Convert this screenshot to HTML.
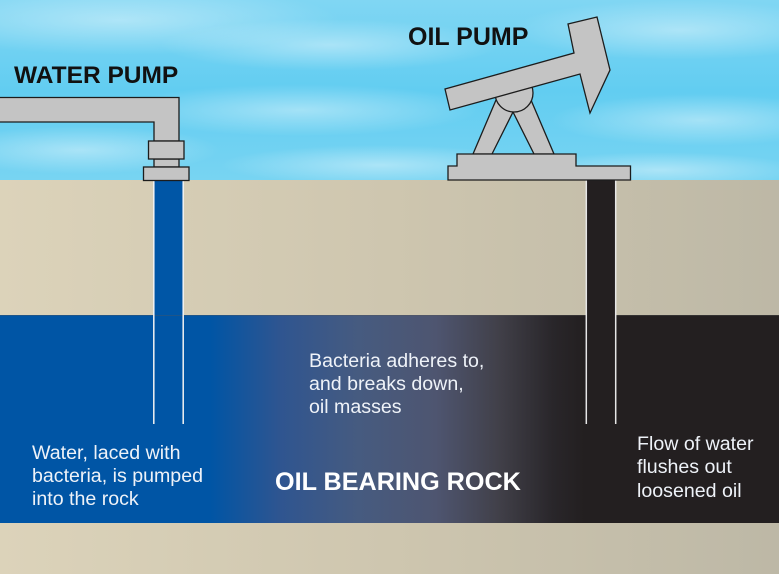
<!DOCTYPE html>
<html>
<head>
<meta charset="utf-8">
<style>
html,body{margin:0;padding:0;background:#fff;}
svg{display:block;}
</style>
</head>
<body>
<svg width="779" height="574" viewBox="0 0 779 574" xmlns="http://www.w3.org/2000/svg">
<defs>
<linearGradient id="sky" x1="0" y1="0" x2="0" y2="1">
<stop offset="0" stop-color="#80d6f3"/>
<stop offset="0.5" stop-color="#62cdf1"/>
<stop offset="1" stop-color="#78d4f2"/>
</linearGradient>
<radialGradient id="cloud">
<stop offset="0" stop-color="#ffffff" stop-opacity="0.4"/>
<stop offset="1" stop-color="#ffffff" stop-opacity="0"/>
</radialGradient>
<linearGradient id="ground" x1="0" y1="0" x2="1" y2="0">
<stop offset="0" stop-color="#dcd3ba"/>
<stop offset="0.5" stop-color="#cec6af"/>
<stop offset="1" stop-color="#bdb8a6"/>
</linearGradient>
<linearGradient id="oil" x1="0" y1="0" x2="1" y2="0">
<stop offset="0" stop-color="#0055a5"/>
<stop offset="0.27" stop-color="#0055a5"/>
<stop offset="0.36" stop-color="#2f5590"/>
<stop offset="0.46" stop-color="#465b80"/>
<stop offset="0.56" stop-color="#4e5570"/>
<stop offset="0.64" stop-color="#414049"/>
<stop offset="0.71" stop-color="#29262a"/>
<stop offset="0.75" stop-color="#231f20"/>
<stop offset="1" stop-color="#231f20"/>
</linearGradient>
</defs>

<!-- sky -->
<rect x="0" y="0" width="779" height="181" fill="url(#sky)"/>
<ellipse cx="120" cy="20" rx="220" ry="35" fill="url(#cloud)"/>
<ellipse cx="330" cy="45" rx="170" ry="26" fill="url(#cloud)"/>
<ellipse cx="680" cy="30" rx="170" ry="30" fill="url(#cloud)"/>
<ellipse cx="300" cy="110" rx="180" ry="26" fill="url(#cloud)"/>
<ellipse cx="700" cy="120" rx="150" ry="26" fill="url(#cloud)"/>
<ellipse cx="80" cy="150" rx="140" ry="24" fill="url(#cloud)"/>
<ellipse cx="380" cy="165" rx="160" ry="20" fill="url(#cloud)"/>
<ellipse cx="660" cy="170" rx="140" ry="18" fill="url(#cloud)"/>

<!-- ground -->
<rect x="0" y="180" width="779" height="135" fill="url(#ground)"/>
<!-- oil layer -->
<rect x="0" y="315" width="779" height="208" fill="url(#oil)"/>
<line x1="0" y1="315.5" x2="779" y2="315.5" stroke="#555" stroke-opacity="0.35" stroke-width="1"/>
<!-- bottom band -->
<rect x="0" y="523" width="779" height="51" fill="url(#ground)"/>

<!-- water pipe -->
<rect x="154" y="180" width="29" height="135" fill="#0056a6"/>
<line x1="153.8" y1="180" x2="153.8" y2="424" stroke="#f2f2f2" stroke-width="1.5"/>
<line x1="183.2" y1="180" x2="183.2" y2="424" stroke="#f2f2f2" stroke-width="1.5"/>

<!-- oil pipe -->
<rect x="587" y="180" width="28" height="244" fill="#231f20"/>
<line x1="586.3" y1="180" x2="586.3" y2="424" stroke="#e6e6e6" stroke-width="1.5"/>
<line x1="615.7" y1="180" x2="615.7" y2="424" stroke="#e6e6e6" stroke-width="1.5"/>

<!-- water pump -->
<g fill="#c4c4c4" stroke="#1c1c1c" stroke-width="1.3">
<path d="M-2,97.5 H179 V141 H154 V122 H-2 Z"/>
<rect x="154" y="159" width="25" height="8"/>
<rect x="148.5" y="141" width="35.5" height="18"/>
<rect x="143.5" y="167" width="45.5" height="13.5"/>
</g>

<!-- oil pump -->
<g fill="#c4c4c4" stroke="#1c1c1c" stroke-width="1.3" stroke-linejoin="miter">
<path fill-rule="evenodd" d="M473,154 L496,100 L531,100 L554,154 Z M492,154 L513,112 L534,154 Z"/>
<path d="M448,180 V166 H457 V154 H576 V166 H630.5 V180 Z"/>
<circle cx="514" cy="93" r="19"/>
<path d="M445,89 L574,53 L568,24 L597,17 L610,70 L590,113 L580,74 L450,110 Z"/>
</g>

<!-- labels -->
<g font-family="'Liberation Sans', Arial, sans-serif" font-weight="bold" fill="#111">
<text x="14" y="83" font-size="24.5">WATER PUMP</text>
<text x="408" y="45" font-size="25">OIL PUMP</text>
</g>
<text x="275" y="490" font-family="'Liberation Sans', Arial, sans-serif" font-weight="bold" font-size="25.2" fill="#ffffff">OIL BEARING ROCK</text>

<g font-family="'Liberation Sans', Arial, sans-serif" font-size="19.6" fill="#eef2f8">
<text x="32" y="459">Water, laced with</text>
<text x="32" y="482">bacteria, is pumped</text>
<text x="32" y="505">into the rock</text>

<text x="309" y="367">Bacteria adheres to,</text>
<text x="309" y="390">and breaks down,</text>
<text x="309" y="413">oil masses</text>

<text x="637" y="450">Flow of water</text>
<text x="637" y="473">flushes out</text>
<text x="637" y="497">loosened oil</text>
</g>
</svg>
</body>
</html>
